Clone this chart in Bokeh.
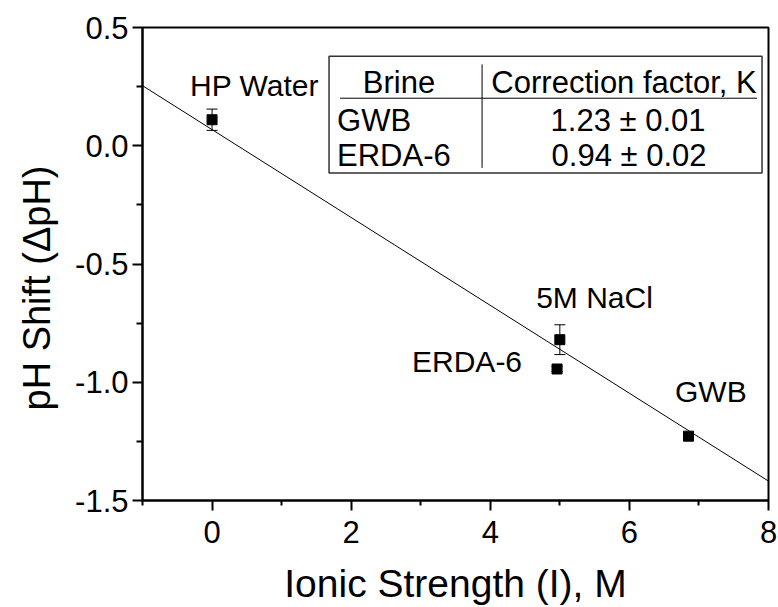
from bokeh.plotting import figure
from bokeh.models import (ColumnDataSource, FixedTicker, PrintfTickFormatter, Whisker,
                          TeeHead, Title, Range1d)
from bokeh.core.properties import value
from bokeh.embed import file_html
from bokeh.resources import INLINE

# ---- data ----
names = ["HP Water", "5M NaCl", "ERDA-6", "GWB"]
ionic_strength = [0.0, 5.0, 4.96, 6.85]
ph_shift = [0.11, -0.82, -0.944, -1.228]
ph_err = [0.045, 0.063, 0.01, 0.008]

fit_x = [-1.0, 8.0]
fit_y = [0.254, -1.418]

brines = ["GWB", "ERDA-6"]
k_vals = [1.23, 0.94]
k_errs = [0.01, 0.02]
table_header = ["Brine", "Correction factor, K"]

x_major = [0, 2, 4, 6, 8]
x_minor = [-1, 1, 3, 5, 7]
y_major = [-1.5, -1.0, -0.5, 0.0, 0.5]
y_minor = [-1.25, -0.75, -0.25, 0.25]

# annotation anchors (data coords)
label_x = [-0.316, 4.66, 2.875, 6.656]
label_y = [0.256, -0.641, -0.911, -1.041]

FONT = "Liberation Sans"

p = figure(width=778, height=607, output_backend="svg", toolbar_location=None,
           x_range=Range1d(-1, 8), y_range=Range1d(-1.5, 0.5))
p.min_border_left = 142
p.min_border_right = 10
p.min_border_top = 27
p.min_border_bottom = 105
p.background_fill_color = "white"
p.border_fill_color = "white"
p.grid.visible = False
p.outline_line_color = "black"
p.outline_line_width = 2

for ax in (p.xaxis[0], p.yaxis[0]):
    ax.axis_line_width = 2
    ax.major_tick_line_width = 2
    ax.minor_tick_line_width = 2
    ax.major_tick_in = 0
    ax.major_tick_out = 10
    ax.minor_tick_in = 0
    ax.minor_tick_out = 5
    ax.major_label_text_font = FONT
    ax.major_label_text_font_size = "31px"
    ax.major_label_text_color = "black"

p.xaxis.ticker = FixedTicker(ticks=x_major, minor_ticks=x_minor)
p.yaxis.ticker = FixedTicker(ticks=y_major, minor_ticks=y_minor)
p.yaxis.formatter = PrintfTickFormatter(format="%.1f")
p.xaxis.major_label_standoff = 10
p.yaxis.major_label_standoff = 4
p.yaxis.minor_tick_out = 6

p.xaxis.axis_label = "Ionic Strength (I), M"
p.xaxis.axis_label_text_font = FONT
p.xaxis.axis_label_text_font_size = "39px"
p.xaxis.axis_label_text_font_style = "normal"
p.xaxis.axis_label_text_color = "black"
p.xaxis.axis_label_standoff = 16

ytitle = Title(text="pH Shift (\u0394pH)", align="left", offset=90, standoff=26,
               vertical_align="top",
               text_font=FONT, text_font_size="38px", text_font_style="normal",
               text_color="black")
p.add_layout(ytitle, "left")

# fit line
p.line(fit_x, fit_y, line_color="black", line_width=1)

# error bars + points
src = ColumnDataSource(dict(
    x=ionic_strength, y=ph_shift,
    upper=[v + e for v, e in zip(ph_shift, ph_err)],
    lower=[v - e for v, e in zip(ph_shift, ph_err)],
))
wh = Whisker(base="x", upper="upper", lower="lower", source=src, line_width=1, line_color="black",
             upper_head=TeeHead(size=11, line_width=1, line_color="black"),
             lower_head=TeeHead(size=11, line_width=1, line_color="black"))
p.add_layout(wh)
p.scatter("x", "y", source=src, marker="square", size=10, fill_color="black", line_color="black")

# point labels
p.text(x=label_x, y=label_y, text=names, text_font=value(FONT), text_font_size="30px",
       text_align="left", text_baseline="alphabetic", text_color="black")

# table
p.quad(left=[1.682], right=[7.907], bottom=[-0.1147], top=[0.378],
       fill_color="white", line_color="#333333", line_width=1.5)
p.segment(x0=[1.84], y0=[0.201], x1=[7.835], y1=[0.201], line_color="black", line_width=1)
p.segment(x0=[3.882], y0=[0.344], x1=[3.882], y1=[-0.0937], line_color="black", line_width=1)

p.text(x=[2.688, 5.923], y=[0.268, 0.268], text=table_header, text_font=value(FONT),
       text_font_size="31px", text_align="center", text_baseline="alphabetic", text_color="black")
p.text(x=[1.797, 1.797], y=[0.108, -0.043], text=brines, text_font=value(FONT),
       text_font_size="31px", text_align="left", text_baseline="alphabetic", text_color="black")
p.text(x=[5.981, 5.995], y=[0.108, -0.043],
       text=["%.2f \u00b1 %.2f" % (k, e) for k, e in zip(k_vals, k_errs)],
       text_font=value(FONT), text_font_size="31px", text_align="center",
       text_baseline="alphabetic", text_color="black")

open("out.html", "w").write(file_html(p, INLINE))
